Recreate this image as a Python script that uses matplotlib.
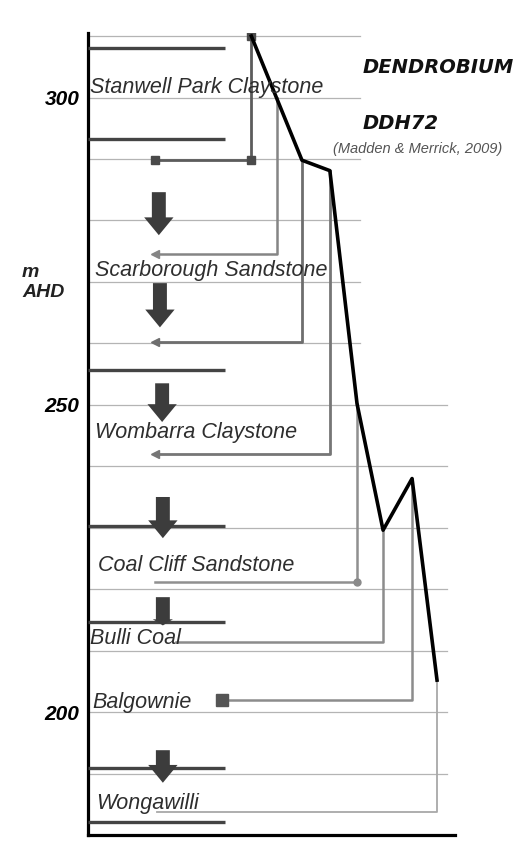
import numpy as np
import matplotlib.pyplot as plt

plt.rcParams['font.family'] = ['Liberation Sans', 'DejaVu Sans']

# elevation (m AHD) of the thin reference lines
grid_levels = [310, 300, 290, 280, 270, 260, 250, 240, 230, 220, 210, 200, 190]

# formations and where their names sit (m AHD)
formations = ['Stanwell Park Claystone', 'Scarborough Sandstone', 'Wombarra Claystone',
              'Coal Cliff Sandstone', 'Bulli Coal', 'Balgownie', 'Wongawilli']
label_elev = [301.6, 271.9, 245.5, 223.9, 212.0, 201.5, 185.2]

# thick boundary bars (m AHD)
boundary_elev = [308.0, 293.3, 255.6, 230.2, 214.6, 190.9, 182.1]

# downward flow arrows: top and tip (m AHD)
arrow_top = [284.6, 269.8, 253.5, 235.0, 218.7, 193.8]
arrow_tip = [277.6, 262.6, 247.2, 228.3, 214.1, 188.5]

# head profile (arbitrary horizontal units) vs elevation
head = [44.5, 58.3, 65.9, 73.3, 80.4, 88.3, 95.1]
head_elev = [310.0, 289.8, 288.1, 250.2, 229.6, 238.0, 205.2]

# connectors: from profile down to the piezometer level, then back left
conn_head = [44.3, 51.4, 58.3, 65.9, 73.3, 80.4, 88.3, 95.1]
conn_top = [310.0, 300.0, 289.8, 288.1, 250.2, 229.6, 238.0, 205.2]
conn_base = [289.8, 274.5, 260.3, 242.0, 221.1, 211.4, 202.0, 183.7]
conn_left = [18.3, 18.3, 18.3, 18.3, 18.3, 24.0, 36.5, 18.7]

yticks = [200, 250, 300]

fig = plt.figure(figsize=(5.18, 8.43), dpi=100)
ax = fig.add_axes([88 / 518, 1 - 835 / 843, (455 - 88) / 518, (835 - 33) / 843])
ax.set_xlim(0, 100)
ax.set_ylim(180, 310.5)

# reference lines
for lv in grid_levels:
    x_end = 74.1 if lv >= 260 else 97.8
    ax.plot([0, x_end], [lv, lv], color='#b4b4b4', lw=0.9, zorder=1)

# boundary bars
for b in boundary_elev:
    ax.plot([0, 37.3], [b, b], color='#444444', lw=2.4, solid_capstyle='butt', zorder=3)

# connectors
conn_colors = ['#5c5c5c', '#858585', '#6e6e6e', '#767676', '#909090', '#8c8c8c', '#8c8c8c', '#a8a8a8']
conn_widths = [2.0, 1.8, 2.0, 2.0, 1.8, 1.8, 1.8, 1.3]
for i in range(len(conn_head)):
    ax.plot([conn_head[i], conn_head[i], conn_left[i]],
            [conn_top[i], conn_base[i], conn_base[i]],
            color=conn_colors[i], lw=conn_widths[i], zorder=4)

# end markers
ax.plot([conn_head[0], conn_head[0], conn_left[0]], [conn_top[0], conn_base[0], conn_base[0]],
        ls='none', marker='s', ms=6, color='#4a4a4a', zorder=6)
for i in (1, 2, 3):
    ax.plot(conn_left[i], conn_base[i], marker='<', ms=6, color=conn_colors[i], zorder=6)
ax.plot(conn_head[4], conn_base[4], marker='o', ms=5, color='#8a8a8a', zorder=6)
ax.plot(conn_left[6], conn_base[6], marker='s', ms=8, color='#555555', zorder=6)

# flow arrows (the Bulli Coal one has only a stub of a head)
arrow_x = [19.3, 19.6, 20.2, 20.4, 20.4, 20.4]
head_w = [8.0, 8.0, 8.0, 8.0, 5.5, 8.0]
head_l = [2.9, 2.9, 2.9, 2.9, 1.0, 2.9]
for i in range(len(arrow_top)):
    ax.arrow(arrow_x[i], arrow_top[i], 0, arrow_tip[i] - arrow_top[i],
             width=3.8, head_width=head_w[i], head_length=head_l[i],
             length_includes_head=True, color='#3c3c3c', lw=0, zorder=5)

# head profile
ax.plot(head, head_elev, color='black', lw=2.6, zorder=7)

# formation names
label_x = [0.5, 1.9, 1.9, 2.7, 0.5, 1.1, 2.2]
for name, x, y in zip(formations, label_x, label_elev):
    ax.text(x, y, name, fontsize=15.5, style='italic', color='#2e2e2e',
            ha='left', va='center', zorder=8)

# titles
ax.text(74.7, 304.9, 'DENDROBIUM', fontsize=14, fontweight='bold', style='italic',
        family=['DejaVu Sans'], color='#111111', va='center', ha='left')
ax.text(74.7, 295.8, 'DDH72', fontsize=14, fontweight='bold', style='italic',
        family=['DejaVu Sans'], color='#111111', va='center', ha='left')
ax.text(66.8, 291.7, '(Madden & Merrick, 2009)', fontsize=10.5, style='italic',
        color='#555555', va='center', ha='left')

ax.text(-18.0, 269.9, 'm\nAHD', fontsize=14, fontweight='bold', style='italic',
        color='#222222', va='center', ha='left', linespacing=1.2)

# axes
for side in ('top', 'right'):
    ax.spines[side].set_visible(False)
for side in ('left', 'bottom'):
    ax.spines[side].set_linewidth(2.3)
    ax.spines[side].set_color('black')
ax.set_xticks([])
ax.set_yticks(yticks)
ax.set_yticklabels([str(t) for t in yticks], fontsize=15, fontweight='bold', style='italic')
ax.tick_params(axis='y', length=0, pad=6)

fig.savefig('out.png', dpi=100)
